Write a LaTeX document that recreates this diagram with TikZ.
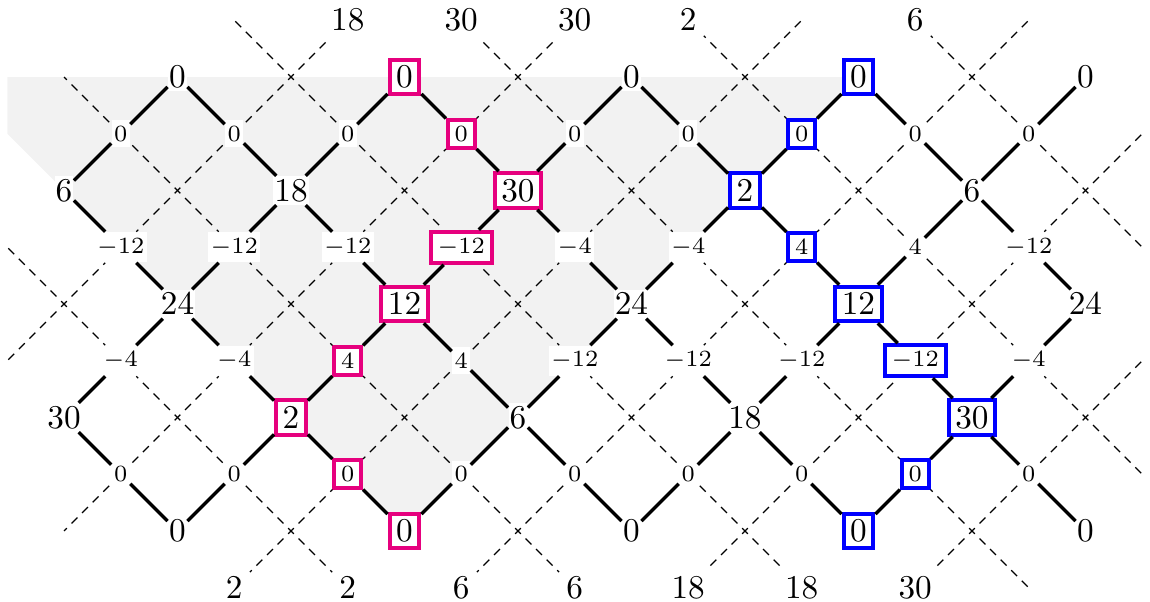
\documentclass[tikz,border=0pt]{standalone}
\definecolor{pinkc}{RGB}{230,0,126}
\definecolor{bluec}{RGB}{0,0,255}
\definecolor{shadec}{RGB}{242,242,242}
\tikzset{
  big/.style={fill=white, inner xsep=0.3pt, inner ysep=1pt, font=\normalsize},
  sml/.style={fill=white, inner xsep=0.7pt, inner ysep=1.8pt, font=\fontsize{6.6}{8}\selectfont},
  nobox/.style={},
  pk/.style={draw=pinkc, line width=1.2pt, inner sep=2pt},
  bl/.style={draw=bluec, line width=1.2pt, inner sep=2pt},
  solidln/.style={line width=1pt},
  dashln/.style={line width=0.4pt, dash pattern=on 2.5pt off 2pt, dash phase=1.3pt},
  lab/.style={inner sep=2pt, font=\normalsize},
}
\begin{document}
\begin{tikzpicture}[x=0.6cm, y=-0.6cm]
\useasboundingbox (-1.128,-1.357) rectangle (19.137,9.251);
\fill[shadec] (-1,0) -- (14,0) -- (6,8) -- (0,2) -- (-1,1) -- cycle;
% large nodes
\foreach \i/\j/\v/\s in {
 2/0/0/nobox, 6/0/0/pk, 10/0/0/nobox, 14/0/0/bl, 18/0/0/nobox,
 0/2/6/nobox, 4/2/18/nobox, 8/2/30/pk, 12/2/2/bl, 16/2/6/nobox,
 2/4/24/nobox, 6/4/12/pk, 10/4/24/nobox, 14/4/12/bl, 18/4/24/nobox,
 0/6/30/nobox, 4/6/2/pk, 8/6/6/nobox, 12/6/18/nobox, 16/6/30/bl,
 2/8/0/nobox, 6/8/0/pk, 10/8/0/nobox, 14/8/0/bl, 18/8/0/nobox}
  \node[big,\s] (n-\i-\j) at (\i,\j) {$\v$};
% small nodes
\foreach \i/\j/\v/\s in {
 1/1/0/nobox, 3/1/0/nobox, 5/1/0/nobox, 7/1/0/pk, 9/1/0/nobox, 11/1/0/nobox, 13/1/0/bl, 15/1/0/nobox, 17/1/0/nobox,
 1/3/-12/nobox, 3/3/-12/nobox, 5/3/-12/nobox, 7/3/-12/pk, 9/3/-4/nobox, 11/3/-4/nobox, 13/3/4/bl, 15/3/4/nobox, 17/3/-12/nobox,
 1/5/-4/nobox, 3/5/-4/nobox, 5/5/4/pk, 7/5/4/nobox, 9/5/-12/nobox, 11/5/-12/nobox, 13/5/-12/nobox, 15/5/-12/bl, 17/5/-4/nobox,
 1/7/0/nobox, 3/7/0/nobox, 5/7/0/pk, 7/7/0/nobox, 9/7/0/nobox, 11/7/0/nobox, 13/7/0/nobox, 15/7/0/bl, 17/7/0/nobox}
  \node[sml,\s] (n-\i-\j) at (\i,\j) {$\v$};
% crossing points of the dashed lattice
\foreach \i/\j in {0/0,4/0,8/0,12/0,16/0, 2/2,6/2,10/2,14/2,18/2, 0/4,4/4,8/4,12/4,16/4, 2/6,6/6,10/6,14/6,18/6, 0/8,4/8,8/8,12/8,16/8}
  \coordinate (d-\i-\j) at (\i,\j);
% outer labels and free ends
\foreach \i/\v in {5/18, 7/30, 9/30, 11/2, 15/6} \node[lab] (top\i) at (\i,-1) {$\v$};
\foreach \i in {3,13,17} \coordinate (top\i) at (\i,-1);
\foreach \i/\v in {3/2,5/2,7/6,9/6,11/18,13/18,15/30} \node[lab] (bot\i) at (\i,9) {$\v$};
\coordinate (bot17) at (17,9);
\coordinate (lft3) at (-1,3);
\coordinate (lft5) at (-1,5);
\foreach \j in {1,3,5,7} \coordinate (rgt\j) at (19,\j);
% lattice lines
\foreach \i in {1,3,...,17} {
 \foreach \j in {1,3,5,7} {
  \pgfmathtruncatemacro{\r}{mod(\i+\j,4)}
  \pgfmathtruncatemacro{\ip}{\i+1}
  \pgfmathtruncatemacro{\im}{\i-1}
  \pgfmathtruncatemacro{\jp}{\j+1}
  \pgfmathtruncatemacro{\jm}{\j-1}
  \ifnum\r=2
    \draw[solidln] (n-\ip-\jm) -- (n-\i-\j) -- (n-\im-\jp);
    \draw[dashln] (d-\im-\jm) -- (n-\i-\j);
    \draw[dashln] (d-\ip-\jp) -- (n-\i-\j);
  \else
    \draw[solidln] (n-\im-\jm) -- (n-\i-\j) -- (n-\ip-\jp);
    \draw[dashln] (d-\ip-\jm) -- (n-\i-\j);
    \draw[dashln] (d-\im-\jp) -- (n-\i-\j);
  \fi
 }
}
\foreach \a/\b in {d-4-0/top3, d-4-0/top5, d-8-0/top7, d-8-0/top9, d-12-0/top11, d-12-0/top13, d-16-0/top15, d-16-0/top17,
  d-4-8/bot3, d-4-8/bot5, d-8-8/bot7, d-8-8/bot9, d-12-8/bot11, d-12-8/bot13, d-16-8/bot15, d-16-8/bot17,
  d-0-4/lft3, d-0-4/lft5, d-18-2/rgt1, d-18-2/rgt3, d-18-6/rgt5, d-18-6/rgt7}
  \draw[dashln] (\a) -- (\b);
\end{tikzpicture}
\end{document}
